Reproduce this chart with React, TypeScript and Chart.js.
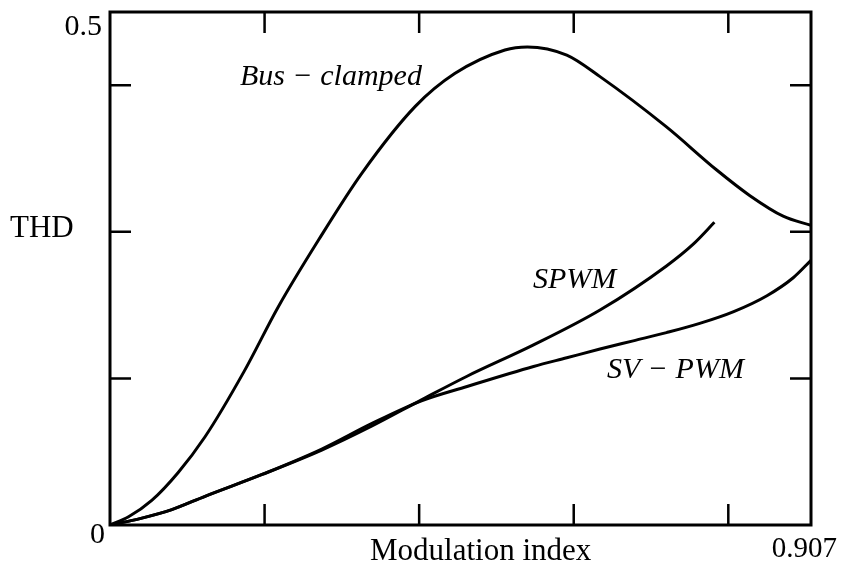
import React, { useEffect, useRef } from "react";
import { Chart, registerables } from "chart.js";

Chart.register(...registerables);

// Modulation index (x) and THD (y)
const busX = [0, 0.024, 0.054, 0.088, 0.123, 0.173, 0.218, 0.270, 0.326, 0.395, 0.446, 0.511, 0.540, 0.591, 0.634, 0.720, 0.785, 0.828, 0.871, 0.907];
const busY = [0, 0.008, 0.024, 0.051, 0.086, 0.149, 0.213, 0.278, 0.343, 0.408, 0.440, 0.463, 0.466, 0.458, 0.437, 0.388, 0.346, 0.321, 0.301, 0.292];

const spwmX = [0, 0.040, 0.080, 0.123, 0.196, 0.274, 0.339, 0.403, 0.462, 0.548, 0.634, 0.720, 0.755, 0.782];
const spwmY = [0, 0.0065, 0.015, 0.028, 0.049, 0.073, 0.0965, 0.122, 0.145, 0.1755, 0.2095, 0.2525, 0.274, 0.295];

const svX = [0, 0.040, 0.080, 0.123, 0.196, 0.274, 0.339, 0.403, 0.462, 0.548, 0.591, 0.634, 0.677, 0.720, 0.763, 0.807, 0.850, 0.884, 0.907];
const svY = [0, 0.0065, 0.015, 0.028, 0.049, 0.074, 0.099, 0.121, 0.135, 0.1545, 0.163, 0.1715, 0.1795, 0.1875, 0.1965, 0.208, 0.2235, 0.241, 0.258];

const xTickMarks = [0.2, 0.4, 0.6, 0.8];
const yTickMarks = [0.5 / 3.5, 1 / 3.5, 1.5 / 3.5];

const X_MAX = 0.907;
const Y_MAX = 0.5;

const xTitle = "Modulation index";
const yTitle = "THD";
const xEndLabel = "0.907";
const yTopLabel = "0.5";
const originLabel = "0";
const seriesLabels = ["Bus − clamped", "SPWM", "SV − PWM"];

function pts(xs: number[], ys: number[]) {
  return xs.map((x, i) => ({ x, y: ys[i] }));
}

const decorPlugin = {
  id: "decor",
  afterDraw(chart: any) {
    const { ctx, chartArea, scales } = chart;
    const { left, right, top, bottom } = chartArea;
    ctx.save();
    ctx.strokeStyle = "#000";
    ctx.lineWidth = 3;
    ctx.strokeRect(left, top, right - left, bottom - top);
    const tl = 21;
    ctx.lineWidth = 2.5;
    ctx.beginPath();
    xTickMarks.forEach((v) => {
      const px = scales.x.getPixelForValue(v);
      ctx.moveTo(px, bottom);
      ctx.lineTo(px, bottom - tl);
      ctx.moveTo(px, top);
      ctx.lineTo(px, top + tl);
    });
    yTickMarks.forEach((v) => {
      const py = scales.y.getPixelForValue(v);
      ctx.moveTo(left, py);
      ctx.lineTo(left + tl, py);
      ctx.moveTo(right, py);
      ctx.lineTo(right - tl, py);
    });
    ctx.stroke();

    ctx.fillStyle = "#000";
    ctx.textBaseline = "alphabetic";
    ctx.font = "30px 'Liberation Serif'";
    ctx.textAlign = "right";
    ctx.fillText(yTopLabel, left - 8, 35);
    ctx.textAlign = "left";
    ctx.fillText(originLabel, left - 20, 543);
    ctx.font = "31px 'Liberation Serif'";
    ctx.fillText(yTitle, 10, 237);
    ctx.fillText(xTitle, 370, 560);
    ctx.font = "29px 'Liberation Serif'";
    ctx.textAlign = "right";
    ctx.fillText(xEndLabel, 837, 557);

    ctx.textAlign = "left";
    ctx.font = "italic 30px 'Liberation Serif'";
    ctx.fillText(seriesLabels[0], 240, 85);
    ctx.fillText(seriesLabels[1], 533, 288);
    ctx.fillText(seriesLabels[2], 607, 378);
    ctx.restore();
  },
};

export default function App() {
  const ref = useRef<HTMLCanvasElement | null>(null);
  useEffect(() => {
    if (!ref.current) return;
    const common = {
      borderColor: "#000",
      borderWidth: 3,
      pointRadius: 0,
      showLine: true,
      fill: false,
      cubicInterpolationMode: "monotone" as const,
    };
    const chart = new Chart(ref.current, {
      type: "scatter",
      data: {
        datasets: [
          { ...common, label: seriesLabels[0], data: pts(busX, busY) },
          { ...common, label: seriesLabels[1], data: pts(spwmX, spwmY) },
          { ...common, label: seriesLabels[2], data: pts(svX, svY) },
        ],
      },
      options: {
        animation: false,
        responsive: false,
        devicePixelRatio: 1,
        layout: { padding: { left: 110, right: 35, top: 12, bottom: 48 } },
        plugins: { legend: { display: false }, tooltip: { enabled: false } },
        scales: {
          x: { type: "linear", min: 0, max: X_MAX, display: false },
          y: { type: "linear", min: 0, max: Y_MAX, display: false },
        },
      },
      plugins: [decorPlugin],
    });
    return () => chart.destroy();
  }, []);
  return (
    <div style={{ position: "fixed", left: 0, top: 0, width: 846, height: 573, background: "#fff" }}>
      <canvas ref={ref} width={846} height={573} style={{ width: 846, height: 573 }} />
    </div>
  );
}
